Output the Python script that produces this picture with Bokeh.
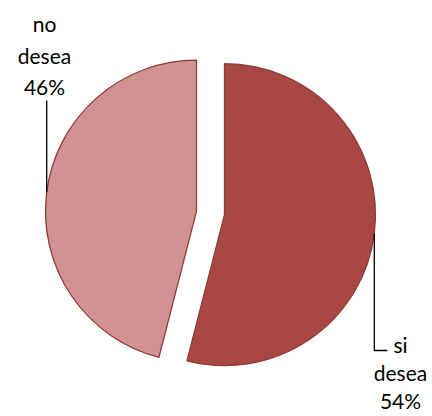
import math
from bokeh.plotting import figure
from bokeh.models import Range1d
from bokeh.core.properties import value
from bokeh.embed import file_html
from bokeh.resources import INLINE

# data
categories = ["si desea", "no desea"]
values = [54, 46]
pct_labels = ["54%", "46%"]
colors = ["#A94745", "#D09292"]
edge_color = "#8E3B39"

W, H = 432, 416
p = figure(width=W, height=H, output_backend="svg", toolbar_location=None,
           x_range=Range1d(0, W), y_range=Range1d(0, H), min_border=0)
p.axis.visible = False
p.grid.visible = False
p.outline_line_color = None
p.background_fill_color = "white"

def sx(x):
    return x
def sy(y):
    return H - y

cx, cy = sx(210), sy(212.4)
r = 151
explode = 14.1
total = sum(values)

FONT = value("Lato")
FS = "21px"

start = 0.0  # clockwise degrees from top
mids = []
centers = []
for i, v in enumerate(values):
    sweep = 360.0 * v / total
    mid = start + sweep / 2
    ma = math.radians(90 - mid)
    ox, oy = cx + explode * math.cos(ma), cy + explode * math.sin(ma)
    a0 = math.radians(90 - start)
    a1 = math.radians(90 - start - sweep)
    p.wedge(x=[ox], y=[oy], radius=r, start_angle=[a0], end_angle=[a1],
            direction="clock", fill_color=colors[i], line_color=edge_color,
            line_width=1.3)
    mids.append(ma)
    centers.append((ox, oy))
    start += sweep

# leader lines from mid-angle edge points
ox, oy = centers[0]
ex, ey = ox + r * math.cos(mids[0]), oy + r * math.sin(mids[0])
p.line(x=[ex, ex, ex + 13], y=[ey, sy(350), sy(350)], line_color="black", line_width=1.3)
ox, oy = centers[1]
ex2, ey2 = ox + r * math.cos(mids[1]), oy + r * math.sin(mids[1])
p.line(x=[ex2, ex2], y=[ey2, sy(100)], line_color="black", line_width=1.3)

def draw_label(cat, pct, xc, ytop_center, gap):
    lines = cat.split(" ") + [pct]
    ys = [ytop_center - gap * k for k in range(len(lines))]
    p.text(x=[xc] * len(lines), y=ys, text=lines, text_align="center",
           text_baseline="middle", text_font=FONT, text_font_size=FS,
           text_color="black")

draw_label(categories[0], pct_labels[0], sx(400), sy(344), 28)
draw_label(categories[1], pct_labels[1], sx(44), sy(23), 31.5)

open("out.html", "w").write(file_html(p, INLINE))
